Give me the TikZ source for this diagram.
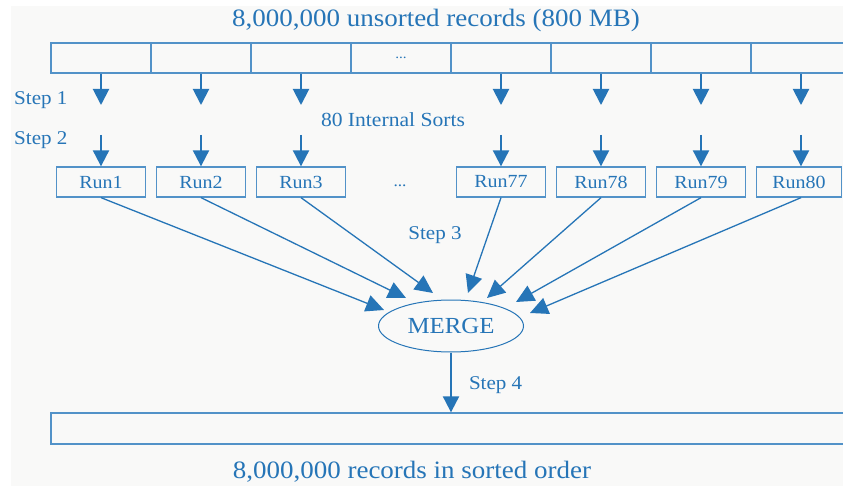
\documentclass[tikz,border=0pt]{standalone}
\usepackage{fontspec}
\setmainfont[FakeStretch=1.08]{Liberation Serif}
\usetikzlibrary{arrows.meta,shapes.geometric}
\definecolor{runblue}{RGB}{38,117,183}
\definecolor{boxblue}{RGB}{82,146,200}
\definecolor{paper}{RGB}{249,249,248}
\tikzset{
	cell/.style={draw=boxblue,line width=1.3pt,minimum width=100pt,minimum height=30pt,inner sep=0pt,text=runblue,font=\fontsize{14}{16}\selectfont},
	runbox/.style={draw=boxblue,line width=1.3pt,minimum width=89pt,minimum height=30pt,inner sep=0pt,text=runblue,font=\fontsize{18.5}{20}\selectfont},
	down/.style={runblue,line width=2pt,-{Triangle[width=16pt,length=16pt]}},
	merge/.style={runblue,line width=1.3pt,-{Triangle[width=17pt,length=18pt]}},
	lbl/.style={text=runblue,inner sep=0pt},
}
\begin{document}
\begin{tikzpicture}[x=1pt,y=-1pt]
				\useasboundingbox (0,0) rectangle (843,486);
				\fill[white] (0,0) rectangle (843,486);
				\fill[paper] (11,6) rectangle (843,486);
				\node (title) [lbl, at={(436,20)}, font=\fontsize{25}{28}\selectfont]{8,000,000 unsorted records (800 MB)};
				\node (c1) [cell, at={(101,58)}]{};
				\node (c2) [cell, at={(201,58)}]{};
				\node (c3) [cell, at={(301,58)}]{};
				\node (c4) [cell, at={(401,58)}]{...};
				\node (c5) [cell, at={(501,58)}]{};
				\node (c6) [cell, at={(601,58)}]{};
				\node (c7) [cell, at={(701,58)}]{};
				\node (c8) [cell, at={(801,58)}]{};
				\node (step1) [lbl, at={(14,100)}, anchor=west, font=\fontsize{19.5}{22}\selectfont]{Step 1};
				\node (step2) [lbl, at={(14,140)}, anchor=west, font=\fontsize{19.5}{22}\selectfont]{Step 2};
				\node (sorts) [lbl, at={(393,120)}, font=\fontsize{20}{22}\selectfont]{80 Internal Sorts};
				\coordinate (a1) at (101,105);
				\coordinate (a2) at (201,105);
				\coordinate (a3) at (301,105);
				\coordinate (a5) at (501,105);
				\coordinate (a6) at (601,105);
				\coordinate (a7) at (701,105);
				\coordinate (a8) at (801,105);
				\draw[down] (c1.south)--(a1);
				\draw[down] (c2.south)--(a2);
				\draw[down] (c3.south)--(a3);
				\draw[down] (c5.south)--(a5);
				\draw[down] (c6.south)--(a6);
				\draw[down] (c7.south)--(a7);
				\draw[down] (c8.south)--(a8);
				\node (run1) [runbox, at={(101,182)}]{Run1};
				\node (run2) [runbox, at={(201,182)}]{Run2};
				\node (run3) [runbox, at={(301,182)}]{Run3};
				\node (dots) [lbl, at={(400,186)}, font=\fontsize{16}{18}\selectfont]{...};
				\node (run77) [runbox, at={(501,182)}]{Run77};
				\node (run78) [runbox, at={(601,182)}]{Run78};
				\node (run79) [runbox, at={(701,182)}]{Run79};
				\node (run80) [runbox, at={(799,182)}, minimum width=85pt]{Run80};
				\coordinate (b1) at (101,135);
				\coordinate (b2) at (201,135);
				\coordinate (b3) at (301,135);
				\coordinate (b5) at (501,135);
				\coordinate (b6) at (601,135);
				\coordinate (b7) at (701,135);
				\coordinate (b8) at (801,135);
				\draw[down] (b1)--(run1.north);
				\draw[down] (b2)--(run2.north);
				\draw[down] (b3)--(run3.north);
				\draw[down] (b5)--(run77.north);
				\draw[down] (b6)--(run78.north);
				\draw[down] (b7)--(run79.north);
				\draw[down] (b8)--(b8 |- run80.north);
				\node (step3) [lbl, at={(435,235)}, font=\fontsize{19.5}{22}\selectfont]{Step 3};
				\node (merge) [ellipse, draw=runblue, line width=1pt, minimum width=145pt, minimum height=52pt, inner sep=0pt, text=runblue, at={(451,326)}, font=\fontsize{23}{26}\selectfont]{MERGE};
				\coordinate (m1) at (384,310);
				\coordinate (m2) at (406,298);
				\coordinate (m3) at (433,293);
				\coordinate (m77) at (468,293);
				\coordinate (m78) at (487,298);
				\coordinate (m79) at (516,302);
				\coordinate (m80) at (530,313);
				\draw[merge] (run1.south)--(m1);
				\draw[merge] (run2.south)--(m2);
				\draw[merge] (run3.south)--(m3);
				\draw[merge] (run77.south)--(m77);
				\draw[merge] (run78.south)--(m78);
				\draw[merge] (run79.south)--(m79);
				\draw[merge] (b8 |- run80.south)--(m80);
				\node (out) [cell, at={(451,428.5)}, minimum width=800pt, minimum height=31pt]{};
				\draw[down] (merge.south)--(out.north) node [pos=0.55, right, lbl, xshift=17pt, font=\fontsize{19.5}{22}\selectfont]{Step 4};
				\node (sorted) [lbl, at={(412,472)}, font=\fontsize{25}{28}\selectfont]{8,000,000 records in sorted order};
				\end{tikzpicture}
\end{document}
